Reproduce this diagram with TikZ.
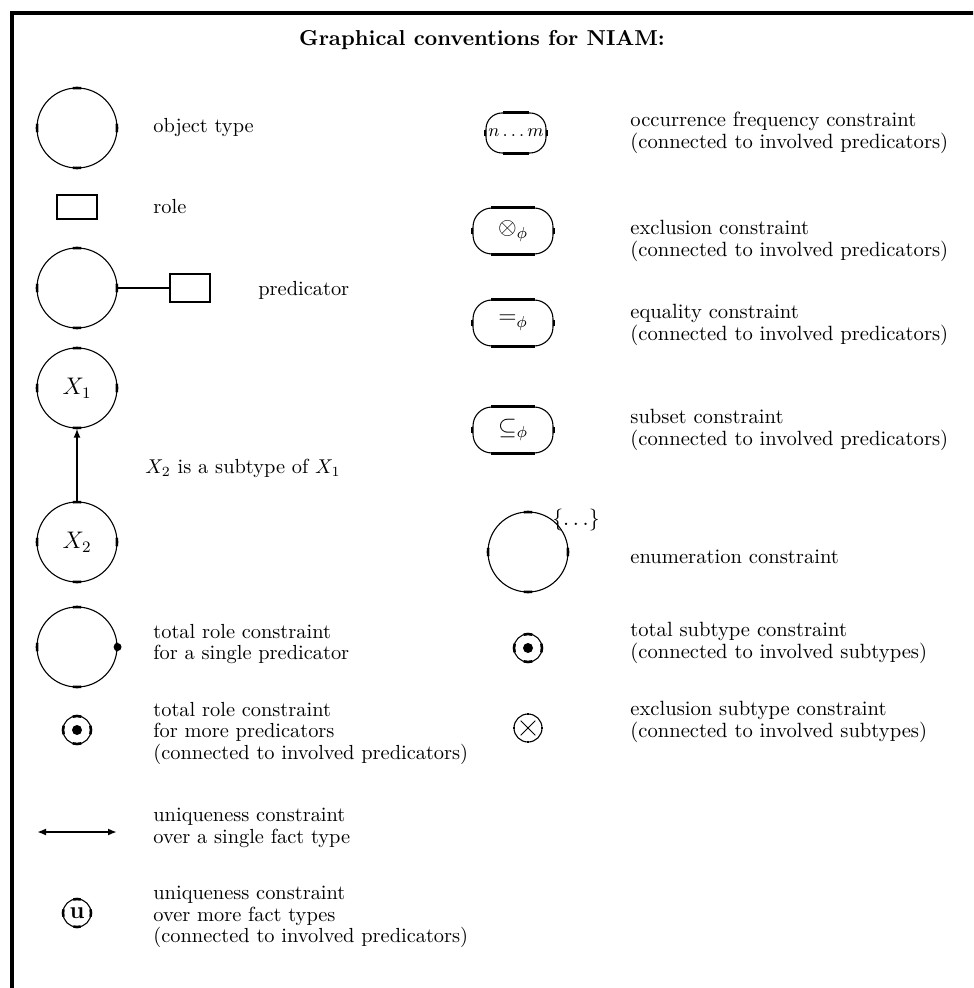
\documentclass[tikz,border=0pt]{standalone}
\usepackage{fontspec}
\usetikzlibrary{arrows.meta}

\tikzset{
  objtype/.style={circle, draw, line width=0.55pt, minimum size=40pt, inner sep=0pt},
  smallc/.style={circle, draw, line width=0.55pt, minimum size=14pt, inner sep=0pt},
  markline/.style={line width=1.3pt},
  roleboxthick/.style={rectangle, draw, line width=1.3pt, minimum width=20pt, minimum height=12pt, inner sep=0pt},
  rolebox/.style={rectangle, draw, line width=0.9pt, minimum width=20pt, minimum height=14pt, inner sep=0pt},
  stadium/.style={rectangle, draw, line width=0.55pt, rounded corners=9.5pt, minimum width=40pt, minimum height=23pt, inner sep=0pt,
    font=\fontsize{11.5}{12}\selectfont},
  desc/.style={anchor=west, align=left, inner sep=0pt},
  descr/.style={desc, font=\fontsize{10.3}{10.75}\selectfont\addfontfeatures{LetterSpace=5}},
  frameline/.style={line width=2pt},
  filldot/.style={circle, fill, inner sep=0pt, minimum size=#1},
  filldot/.default=4pt,
  arrowline/.style={line width=1pt},
}

% four short thick arcs on a circle node: #1 name, #2 radius, #3 half-angle
\newcommand\circmarks[3]{%
  \foreach \a in {0,90,180,270}{%
    \draw[markline] ([shift={(\a-#3:#2)}]#1.center) arc[start angle=\a-#3, end angle=\a+#3, radius=#2];
  }%
}
% thick strokes on the straight sides of a rounded box: #1 name, #2 half-length
\newcommand\boxmarks[2]{%
  \draw[markline] ([xshift=-#2]#1.north) -- ([xshift=#2]#1.north);
  \draw[markline] ([xshift=-#2]#1.south) -- ([xshift=#2]#1.south);
  \draw[line width=1pt] ([yshift=-1.3pt]#1.west) -- ([yshift=1.3pt]#1.west);
  \draw[line width=1pt] ([yshift=-1.3pt]#1.east) -- ([yshift=1.3pt]#1.east);
}

\begin{document}
\begin{tikzpicture}[x=0.5pt, y=0.5pt, font=\fontsize{10.2}{10.75}\selectfont,
  >={Latex[length=4.5pt, width=3.5pt]}]
\useasboundingbox (0,0) rectangle (973,-988);
\clip (0,0) rectangle (973,-988);

% frame and heading
\draw[frameline] (12,-990) -- (12,-13) -- (980,-13);
\node[font=\fontsize{10.8}{12}\selectfont\bfseries] (title) at (482,-40) {Graphical conventions for NIAM:};

% ---- left column ----
\node[objtype] (ot) at (77,-128) {};
\circmarks{ot}{20pt}{6}
\node[desc] (otl) at (153,-128) {object type};

\node[roleboxthick] (ro) at (77,-207) {};
\node[desc] (rol) at (153,-207) {role};

\node[objtype] (pc) at (77,-288) {};
\circmarks{pc}{20pt}{6}
\node[rolebox] (pr) at (190,-288) {};
\draw[line width=1.2pt] (pc.east) -- (pr.west);
\node[desc] (prl) at (258,-290) {predicator};

\node[objtype, font=\fontsize{11.5}{12}\selectfont] (x1) at (77,-388) {$X_1$};
\circmarks{x1}{20pt}{6}
\node[objtype, font=\fontsize{11.5}{12}\selectfont] (x2) at (77,-542) {$X_2$};
\circmarks{x2}{20pt}{6}
\draw[arrowline, ->] (x2.north) -- (x1.south);
\node[desc] (stl) at (145,-468) {$X_2$ is a subtype of $X_1$};

\node[objtype] (tr) at (77,-647) {};
\circmarks{tr}{20pt}{6}
\node[filldot] (trd) at (tr.east) {};
\node[desc] (trl) at (153,-644) {total role constraint\\for a single predicator};

\node[smallc] (tm) at (77,-730) {};
\circmarks{tm}{7pt}{18}
\node[filldot=5pt] (tmd) at (tm.center) {};
\node[desc] (tml) at (153,-733) {total role constraint\\for more predicators\\(connected to involved predicators)};

\coordinate (ua) at (37,-832);
\coordinate (ub) at (117,-832);
\draw[arrowline, <->] (ua) -- (ub);
\node[desc] (ul) at (153,-828) {uniqueness constraint\\over a single fact type};

\node[smallc, font=\fontsize{12}{12}\selectfont\bfseries] (um) at (77,-913) {u};
\circmarks{um}{7pt}{15}
\node[desc] (uml) at (153,-917) {uniqueness constraint\\over more fact types\\(connected to involved predicators)};

% ---- right column ----
\node[stadium, minimum width=30pt, minimum height=20pt, rounded corners=8pt, font=\fontsize{8.8}{10}\selectfont] (of) at (516,-133) {$n\ldots m$};
\boxmarks{of}{6.5pt}
\node[descr] (ofl) at (630,-133) {occurrence frequency constraint\\(connected to involved predicators)};

\node[stadium] (ex) at (513,-231) {$\otimes_\phi$};
\boxmarks{ex}{11pt}
\node[descr] (exl) at (630,-241) {exclusion constraint\\(connected to involved predicators)};

\node[stadium] (eq) at (513,-323) {$=_\phi$};
\boxmarks{eq}{11pt}
\node[descr] (eql) at (630,-325) {equality constraint\\(connected to involved predicators)};

\node[stadium] (ss) at (513,-430) {$\subseteq_\phi$};
\boxmarks{ss}{11pt}
\node[descr] (ssl) at (630,-430) {subset constraint\\(connected to involved predicators)};

\node[objtype] (en) at (528,-552) {};
\circmarks{en}{20pt}{6}
\node[font=\fontsize{11}{12}\selectfont] (enb) at (576,-520) {$\{\ldots\}$};
\node[descr] (enl) at (630,-557) {enumeration constraint};

\node[smallc] (ts) at (528,-648) {};
\circmarks{ts}{7pt}{18}
\node[filldot=5pt] (tsd) at (ts.center) {};
\node[descr] (tsl) at (630,-643) {total subtype constraint\\(connected to involved subtypes)};

\node[smallc] (xs) at (528,-728) {};
\circmarks{xs}{7pt}{6}
\draw[line width=0.5pt] ([shift={(45:5.2pt)}]xs.center) -- ([shift={(225:5.2pt)}]xs.center);
\draw[line width=0.5pt] ([shift={(135:5.2pt)}]xs.center) -- ([shift={(315:5.2pt)}]xs.center);
\node[descr] (xsl) at (630,-722) {exclusion subtype constraint\\(connected to involved subtypes)};
\end{tikzpicture}
\end{document}
